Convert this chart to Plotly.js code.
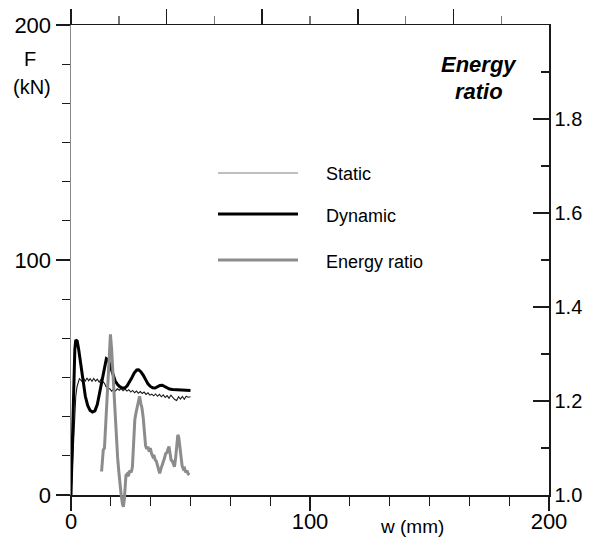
<!DOCTYPE html>
<html>
<head>
<meta charset="utf-8">
<script src="https://cdn.plot.ly/plotly-3.0.1.min.js"></script>
<style>
html,body{margin:0;padding:0;background:#fff;}
#chart{width:593px;height:552px;}
</style>
</head>
<body>
<div id="chart"></div>
<script>
// ---- Data ----
const staticW = [0,0.5,1,1.5,2,2.5,3,3.5,4,4.7,5.3,6,6.7,7.4,8,8.8,9.5,10.3,11,11.8,12.5,13.3,14,14.7,15.5,16.2,17,17.8,18.6,19.4,20.2,21,21.8,22.6,23.4,24.2,25,25.8,26.6,27.4,28.2,29,29.8,30.6,31.4,32.2,33,33.8,34.6,35.4,36.2,37,37.8,38.6,39.4,40.2,41,41.8,42.6,43.4,44.2,45,45.8,46.6,47.4,48.2,49,50];
const staticF = [0,12,25,36,42,46,48,49.5,49,48.3,49.5,48.5,49.8,48.6,49.5,48.4,49.6,48.5,49.3,48,49.2,48.3,47.5,46,45,45.3,44.2,45,44.3,45.2,44.6,45.3,44.4,45.1,44.2,44.8,43.8,44.5,43.5,44.2,43.3,44,43.2,43.8,42.8,43.5,42.5,42.9,42.2,43,42,42.8,41.8,42.6,41.5,42.3,41.2,42.5,41.3,40.6,40.2,41.8,40.8,41.9,40.7,42,41.6,41.8];

const dynamicW = [0,0.4,0.8,1.2,1.6,2.0,2.6,3.2,4,5,6,7,8,9,10,11,12,13,14,14.8,15.6,16.5,17.5,18.5,19.5,20.5,21.5,22.5,23.5,24.5,25.5,26.5,27.5,28.3,29.2,30.2,31.2,32.2,33.2,34.2,35.2,36.2,37.2,38.2,39.2,40.2,41.2,42.5,44,45.5,47,48.5,50];
const dynamicF = [0,15,35,52,62,66,65.5,62,56,48,42,38,36,35.3,35.8,38.5,43.5,49.5,55,58,57.5,54.5,51,48.5,47,46,45.5,45.5,46.5,48,50,52,53.2,53.3,52.5,51,49,47.3,46.2,45.6,45.5,46,46.6,46.7,46.2,45.5,45.1,44.9,44.8,44.8,44.6,44.5,44.5];

const energyW = [12.8,13.2,13.5,14.0,14.5,15.0,15.5,16.0,16.5,17.0,17.5,18.0,18.5,19.0,19.5,20.0,20.5,21.0,21.5,21.9,22.3,22.7,23.0,23.5,24.0,24.6,25.2,25.7,26.2,26.7,27.2,27.7,28.2,28.7,29.2,29.7,30.2,30.7,31.2,31.7,32.2,32.7,33.2,33.7,34.2,34.7,35.2,35.7,36.2,36.7,37.1,37.6,38.1,38.6,39.1,39.6,40.1,40.6,41.0,41.4,41.9,42.4,42.9,43.3,43.8,44.3,44.7,45.1,45.5,46.0,46.5,47.0,47.5,48.0,48.5,49.0,49.6];
const energyRatio = [1.050,1.075,1.096,1.100,1.150,1.200,1.260,1.310,1.342,1.310,1.260,1.210,1.160,1.115,1.080,1.050,1.020,1.000,0.982,0.975,0.990,1.030,1.042,1.045,1.040,1.052,1.048,1.060,1.110,1.160,1.175,1.185,1.200,1.210,1.195,1.185,1.165,1.130,1.105,1.098,1.103,1.092,1.100,1.088,1.082,1.085,1.075,1.072,1.062,1.050,1.046,1.055,1.062,1.070,1.078,1.088,1.090,1.098,1.103,1.090,1.074,1.072,1.062,1.060,1.080,1.110,1.128,1.122,1.105,1.085,1.062,1.055,1.057,1.048,1.052,1.045,1.043];

const seriesNames = ["Static", "Dynamic", "Energy ratio"];
const xTickVals = [0, 100, 200];
const xMinorVals = [16.667,33.333,50,66.667,83.333,116.667,133.333,150,166.667,183.333];
const yTickVals = [0, 100, 200];
const yMinorVals = [16.667,33.333,50,66.667,83.333,116.667,133.333,150,166.667,183.333];
const y2TickVals = [1.0, 1.2, 1.4, 1.6, 1.8];
const y2MinorVals = [1.1, 1.3, 1.5, 1.7, 1.9];
const topTickVals = [0, 0.2, 0.4, 0.6, 0.8];
const topMinorVals = [0.1, 0.3, 0.5, 0.7, 0.9];

// ---- Geometry helpers (pixel -> paper) ----
const W = 593, H = 552;
const M = {l: 71, r: 44, t: 25, b: 32};
const plotW = W - M.l - M.r, plotH = H - M.t - M.b;
const axisBottomPx = 495;
const px = x => (x - M.l) / plotW;
const py = y => (H - M.b - y) / plotH;

const FONT = "Liberation Sans, Arial, Helvetica, sans-serif";

const traces = [
  {x: staticW, y: staticF, xaxis: 'x', yaxis: 'y', mode: 'lines', name: seriesNames[0],
   line: {color: '#1a1a1a', width: 1.1}, hoverinfo: 'skip'},
  {x: dynamicW, y: dynamicF, xaxis: 'x', yaxis: 'y', mode: 'lines', name: seriesNames[1],
   line: {color: '#000000', width: 3}, hoverinfo: 'skip'},
  {x: energyW, y: energyRatio, xaxis: 'x', yaxis: 'y3', mode: 'lines', name: seriesNames[2],
   line: {color: '#8c8c8c', width: 3}, hoverinfo: 'skip'},
  // anchors so the secondary axes are drawn
  {x: [null], y: [null], xaxis: 'x2', yaxis: 'y', mode: 'lines', showlegend: false, hoverinfo: 'skip'},
  {x: [null], y: [null], xaxis: 'x', yaxis: 'y2', mode: 'lines', showlegend: false, hoverinfo: 'skip'}
];

const yDomLow = (H - M.b - axisBottomPx) / plotH;
// y3 maps identically to y2 (1.0 at the x axis, 2.0 at the top) but spans the full plot height
const y3Low = 1 - (H - M.b - axisBottomPx) / (axisBottomPx - M.t);

const darkLine = '#1a1a1a';

const layout = {
  width: W, height: H,
  margin: M,
  paper_bgcolor: '#fff', plot_bgcolor: 'rgba(0,0,0,0)',
  showlegend: false,
  font: {family: FONT, color: '#000'},
  xaxis: {
    domain: [0, 1], anchor: 'y', range: [0, 200],
    tickvals: xTickVals, ticktext: xTickVals.map(String),
    ticks: 'outside', ticklen: 14, tickwidth: 1.4, tickcolor: darkLine,
    ticklabelstandoff: -8,
    showline: true, linecolor: darkLine, linewidth: 1.5,
    showgrid: false, zeroline: false,
    tickfont: {size: 22, family: FONT, color: '#000'},
    minor: {tickvals: xMinorVals, ticks: 'outside', ticklen: 9, tickwidth: 1.2, tickcolor: darkLine, showgrid: false}
  },
  xaxis2: {
    overlaying: 'x', side: 'top', anchor: 'y', range: [0, 1],
    tickvals: topTickVals, ticks: 'outside', ticklen: 15, tickwidth: 1.6, tickcolor: darkLine,
    showticklabels: false, showline: true, linecolor: darkLine, linewidth: 1.5,
    showgrid: false, zeroline: false,
    minor: {tickvals: topMinorVals, ticks: 'outside', ticklen: 8, tickwidth: 1.4, tickcolor: '#777', showgrid: false}
  },
  yaxis: {
    domain: [yDomLow, 1], anchor: 'x', range: [0, 200],
    tickvals: yTickVals, ticktext: yTickVals.map(String),
    ticks: 'outside', ticklen: 14, tickwidth: 1.4, tickcolor: darkLine,
    showline: true, linecolor: '#8a8a8a', linewidth: 1.5,
    showgrid: false, zeroline: false,
    tickfont: {size: 22, family: FONT, color: '#000'},
    minor: {tickvals: yMinorVals, ticks: 'outside', ticklen: 8, tickwidth: 1.2, tickcolor: darkLine, showgrid: false}
  },
  yaxis2: {
    overlaying: 'y', side: 'right', anchor: 'x', range: [1, 2],
    tickvals: y2TickVals, ticktext: y2TickVals.map(v => v.toFixed(1)),
    ticks: 'inside', ticklen: 16, tickwidth: 1.4, tickcolor: darkLine,
    showline: true, linecolor: darkLine, linewidth: 1.5,
    showgrid: false, zeroline: false,
    tickfont: {size: 20, family: FONT, color: '#000'},
    minor: {tickvals: y2MinorVals, ticks: 'inside', ticklen: 8, tickwidth: 1.2, tickcolor: darkLine, showgrid: false}
  },
  yaxis3: {
    domain: [0, 1], anchor: 'x', range: [y3Low, 2],
    visible: false, showgrid: false, zeroline: false
  },
  shapes: [
    {type: 'line', xref: 'paper', yref: 'paper', x0: px(218), x1: px(298), y0: py(173), y1: py(173), line: {color: '#808080', width: 1.2}},
    {type: 'line', xref: 'paper', yref: 'paper', x0: px(218), x1: px(298), y0: py(214), y1: py(214), line: {color: '#000', width: 3}},
    {type: 'line', xref: 'paper', yref: 'paper', x0: px(218), x1: px(298), y0: py(260), y1: py(260), line: {color: '#8c8c8c', width: 3}}
  ],
  annotations: [
    {text: seriesNames[0], xref: 'paper', yref: 'paper', x: px(324), y: py(174), xanchor: 'left', yanchor: 'middle', showarrow: false, font: {size: 18, family: FONT, color: '#000'}},
    {text: seriesNames[1], xref: 'paper', yref: 'paper', x: px(324), y: py(216), xanchor: 'left', yanchor: 'middle', showarrow: false, font: {size: 18, family: FONT, color: '#000'}},
    {text: seriesNames[2], xref: 'paper', yref: 'paper', x: px(324), y: py(262), xanchor: 'left', yanchor: 'middle', showarrow: false, font: {size: 18, family: FONT, color: '#000'}},
    {text: 'F', xref: 'paper', yref: 'paper', x: px(30), y: py(59), xanchor: 'center', yanchor: 'middle', showarrow: false, font: {size: 20, family: FONT, color: '#000'}},
    {text: '(kN)', xref: 'paper', yref: 'paper', x: px(32), y: py(87), xanchor: 'center', yanchor: 'middle', showarrow: false, font: {size: 20, family: FONT, color: '#000'}},
    {text: '<b><i>Energy</i></b>', xref: 'paper', yref: 'paper', x: px(479), y: py(65), xanchor: 'center', yanchor: 'middle', showarrow: false, font: {size: 22, family: FONT, color: '#000'}},
    {text: '<b><i>ratio</i></b>', xref: 'paper', yref: 'paper', x: px(479), y: py(92), xanchor: 'center', yanchor: 'middle', showarrow: false, font: {size: 22, family: FONT, color: '#000'}},
    {text: 'w (mm)', xref: 'paper', yref: 'paper', x: px(412), y: py(526), xanchor: 'center', yanchor: 'middle', showarrow: false, font: {size: 19, family: FONT, color: '#000'}}
  ]
};

Plotly.newPlot('chart', traces, layout, {displayModeBar: false, staticPlot: true});
</script>
</body>
</html>
